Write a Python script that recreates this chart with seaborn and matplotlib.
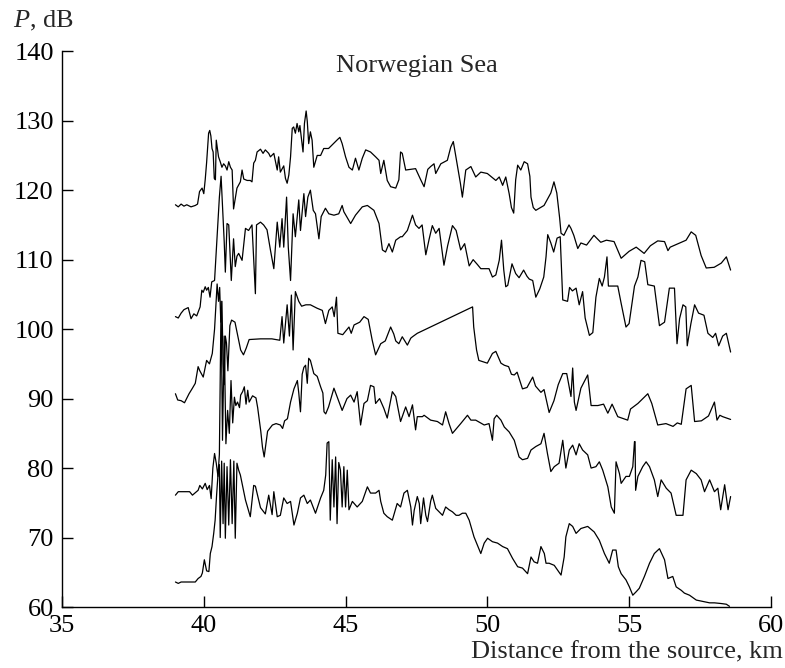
import pandas as pd
import matplotlib
matplotlib.use("Agg")
import matplotlib.pyplot as plt
import seaborn as sns

# (distance km, level dB), top to bottom
trace_1 = [(39.0, 117.9), (39.1, 117.6), (39.2, 118.0), (39.3, 117.7), (39.4, 117.9), (39.55, 117.6),
           (39.7, 117.8), (39.78, 118.0), (39.85, 119.8), (39.94, 120.3), (40.0, 119.5), (40.05, 121.5),
           (40.1, 124.0), (40.17, 128.2), (40.21, 128.6), (40.25, 127.8), (40.29, 126.0), (40.33, 125.5),
           (40.37, 121.7), (40.41, 121.5), (40.44, 127.2), (40.48, 126.0), (40.52, 124.8), (40.58, 124.1),
           (40.64, 123.3), (40.7, 123.8), (40.76, 123.5), (40.82, 122.9), (40.88, 124.1), (40.94, 123.3),
           (41.0, 122.9), (41.05, 117.3), (41.11, 118.8), (41.17, 120.3), (41.29, 121.2), (41.35, 122.9),
           (41.41, 121.6), (41.53, 121.4), (41.64, 121.4), (41.7, 121.2), (41.76, 123.9), (41.82, 124.3),
           (41.88, 125.5), (42.0, 125.9), (42.09, 125.3), (42.17, 125.8), (42.29, 125.3), (42.35, 124.8),
           (42.47, 125.3), (42.53, 124.1), (42.59, 122.9), (42.64, 124.8), (42.7, 122.6), (42.82, 123.5),
           (42.88, 121.7), (42.94, 121.0), (43.0, 122.2), (43.06, 124.8), (43.12, 128.9), (43.17, 129.1),
           (43.23, 128.2), (43.29, 129.6), (43.35, 128.4), (43.39, 129.3), (43.45, 127.2), (43.5, 125.5),
           (43.55, 129.6), (43.61, 131.4), (43.65, 129.9), (43.7, 126.7), (43.76, 128.4), (43.82, 127.2),
           (43.88, 123.3), (44.0, 125.0), (44.12, 125.0), (44.23, 126.0), (44.4, 126.0), (44.57, 126.7),
           (44.72, 127.3), (44.8, 127.6), (44.88, 126.7), (45.0, 124.8), (45.12, 123.3), (45.24, 122.9),
           (45.35, 124.6), (45.47, 122.9), (45.59, 124.6), (45.71, 125.8), (45.88, 125.5), (46.06, 124.8),
           (46.18, 124.3), (46.24, 122.4), (46.35, 124.3), (46.47, 121.4), (46.59, 120.5), (46.77, 120.3),
           (46.88, 121.5), (46.94, 125.5), (47.0, 125.3), (47.12, 122.9), (47.3, 123.0), (47.47, 123.1),
           (47.65, 121.5), (47.77, 120.5), (47.9, 123.0), (48.0, 123.4), (48.12, 123.8), (48.18, 122.4),
           (48.36, 123.8), (48.59, 124.3), (48.71, 126.2), (48.8, 127.0), (48.95, 123.4), (49.05, 121.0),
           (49.12, 119.0), (49.24, 122.9), (49.42, 123.4), (49.59, 121.9), (49.77, 122.6), (50.0, 122.4),
           (50.3, 121.4), (50.42, 121.9), (50.54, 120.7), (50.65, 121.9), (50.77, 119.5), (50.85, 117.5),
           (50.93, 116.7), (51.0, 121.5), (51.07, 123.6), (51.18, 122.9), (51.3, 124.1), (51.42, 123.8),
           (51.5, 122.0), (51.54, 119.0), (51.62, 117.5), (51.71, 117.1), (52.0, 117.8), (52.24, 119.6),
           (52.35, 121.2), (52.45, 119.6), (52.55, 116.0), (52.6, 113.8), (52.7, 113.5), (52.88, 115.0),
           (52.95, 114.5), (53.05, 113.5), (53.19, 111.6), (53.3, 112.4), (53.5, 112.1), (53.76, 113.5),
           (54.0, 112.5), (54.2, 112.8), (54.47, 112.6), (54.72, 110.2), (55.0, 111.2), (55.25, 111.8),
           (55.53, 110.9), (55.75, 112.0), (56.01, 112.7), (56.25, 112.6), (56.37, 111.3), (56.45, 111.8),
           (57.01, 112.8), (57.19, 114.0), (57.35, 113.5), (57.54, 110.6), (57.72, 108.8), (58.0, 108.9),
           (58.25, 109.5), (58.43, 110.4), (58.58, 108.5)]

trace_2 = [(39.0, 101.8), (39.1, 101.6), (39.2, 102.3), (39.3, 102.8), (39.45, 103.1), (39.55, 101.5),
           (39.65, 102.2), (39.75, 101.9), (39.87, 103.2), (39.93, 105.6), (39.98, 105.3), (40.05, 106.1),
           (40.1, 105.6), (40.16, 106.0), (40.22, 104.6), (40.28, 106.8), (40.38, 107.0), (40.45, 112.0),
           (40.55, 119.0), (40.61, 122.0), (40.66, 117.6), (40.72, 112.6), (40.76, 108.2), (40.82, 115.2),
           (40.88, 115.0), (40.94, 109.5), (40.97, 107.0), (41.05, 113.0), (41.11, 109.0), (41.17, 110.5),
           (41.23, 110.9), (41.35, 109.9), (41.47, 114.5), (41.58, 114.2), (41.7, 115.0), (41.82, 105.1),
           (41.86, 115.0), (42.0, 115.4), (42.11, 115.0), (42.23, 114.3), (42.35, 111.4), (42.47, 108.7),
           (42.59, 115.4), (42.68, 111.8), (42.76, 115.9), (42.82, 111.8), (42.92, 119.0), (42.98, 111.8),
           (43.06, 107.0), (43.15, 116.6), (43.23, 113.3), (43.35, 118.6), (43.41, 114.2), (43.53, 119.5),
           (43.59, 116.2), (43.67, 119.0), (43.76, 120.0), (43.86, 117.1), (43.94, 116.6), (44.06, 113.0),
           (44.14, 116.2), (44.29, 117.4), (44.41, 116.6), (44.59, 116.4), (44.76, 116.6), (44.88, 117.8),
           (44.94, 116.9), (45.18, 115.2), (45.35, 116.4), (45.59, 117.6), (45.77, 117.8), (46.0, 117.1),
           (46.18, 115.2), (46.3, 111.4), (46.41, 111.1), (46.53, 112.3), (46.65, 111.1), (46.77, 112.8),
           (46.94, 113.3), (47.0, 113.3), (47.18, 114.2), (47.36, 116.4), (47.47, 115.0), (47.59, 114.5),
           (47.7, 115.0), (47.83, 110.7), (47.95, 113.0), (48.06, 114.9), (48.18, 113.8), (48.3, 114.5),
           (48.47, 109.2), (48.6, 112.0), (48.77, 114.9), (48.9, 114.2), (49.06, 111.4), (49.2, 112.3),
           (49.36, 109.1), (49.5, 110.0), (49.65, 109.3), (49.77, 108.7), (50.06, 108.7), (50.18, 107.5),
           (50.3, 107.8), (50.42, 109.9), (50.5, 112.8), (50.58, 108.5), (50.65, 106.1), (50.72, 106.3),
           (50.87, 109.4), (51.0, 108.0), (51.12, 107.4), (51.28, 108.5), (51.4, 107.6), (51.48, 107.2),
           (51.6, 107.0), (51.71, 104.6), (51.85, 105.8), (51.99, 107.5), (52.07, 110.4), (52.13, 113.6),
           (52.24, 112.4), (52.34, 111.1), (52.46, 113.1), (52.57, 113.3), (52.66, 104.2), (52.83, 104.0),
           (52.9, 106.0), (53.0, 105.5), (53.13, 105.9), (53.24, 103.5), (53.36, 105.4), (53.45, 101.6),
           (53.6, 99.1), (53.72, 99.5), (53.83, 104.6), (53.95, 107.3), (54.05, 106.2), (54.13, 107.5),
           (54.22, 110.4), (54.27, 106.2), (54.45, 106.2), (54.6, 106.2), (54.72, 103.7), (54.89, 100.3),
           (55.0, 100.8), (55.19, 106.2), (55.31, 107.5), (55.42, 109.9), (55.55, 109.7), (55.66, 106.4),
           (55.89, 106.2), (56.07, 100.5), (56.25, 101.0), (56.42, 105.9), (56.6, 105.9), (56.69, 97.9),
           (56.78, 101.5), (56.9, 103.5), (57.0, 103.2), (57.05, 97.6), (57.18, 100.8), (57.31, 103.5),
           (57.45, 102.3), (57.64, 102.0), (57.78, 99.4), (57.95, 98.8), (58.05, 99.4), (58.16, 97.6),
           (58.3, 99.0), (58.43, 99.4), (58.58, 96.7)]

trace_3 = [(39.0, 90.7), (39.08, 89.8), (39.2, 89.7), (39.32, 89.4), (39.48, 90.7), (39.6, 91.5),
           (39.7, 92.2), (39.8, 94.6), (39.86, 94.0), (39.98, 93.1), (40.1, 95.5), (40.2, 95.0),
           (40.3, 96.5), (40.38, 100.0), (40.47, 106.5), (40.52, 104.0), (40.56, 106.0), (40.6, 101.0),
           (40.64, 104.0), (40.68, 95.0), (40.72, 92.0), (40.76, 99.0), (40.8, 98.0), (40.85, 94.0),
           (40.92, 100.5), (40.98, 101.3), (41.1, 101.0), (41.2, 99.0), (41.3, 97.0), (41.4, 96.3),
           (41.5, 97.3), (41.6, 98.5), (42.0, 98.6), (42.4, 98.6), (42.68, 98.4), (42.76, 101.8),
           (42.82, 98.0), (42.94, 103.5), (43.02, 99.0), (43.09, 104.9), (43.15, 97.0), (43.23, 105.4),
           (43.35, 104.0), (43.45, 103.3), (43.6, 103.5), (43.76, 103.5), (44.0, 103.0), (44.18, 102.7),
           (44.29, 100.8), (44.41, 102.7), (44.53, 103.2), (44.6, 101.8), (44.68, 104.6), (44.73, 99.4),
           (44.9, 99.2), (45.12, 100.3), (45.2, 99.4), (45.3, 100.6), (45.5, 101.0), (45.65, 101.8),
           (45.8, 101.4), (45.94, 98.4), (46.06, 96.3), (46.24, 97.9), (46.4, 98.3), (46.59, 100.3),
           (46.7, 99.3), (46.77, 98.3), (46.88, 97.9), (47.0, 98.9), (47.06, 98.5), (47.18, 97.7),
           (47.3, 98.7), (47.36, 98.9), (47.53, 99.4), (49.48, 103.2), (49.52, 100.3), (49.62, 97.0),
           (49.7, 95.5), (50.0, 95.1), (50.18, 96.5), (50.3, 96.8), (50.48, 95.1), (50.6, 94.8),
           (50.75, 94.6), (50.85, 93.5), (50.95, 93.4), (51.05, 93.8), (51.24, 91.4), (51.4, 91.6),
           (51.6, 93.1), (51.7, 91.8), (51.89, 90.9), (52.0, 91.3), (52.18, 88.0), (52.35, 89.7),
           (52.5, 92.0), (52.66, 93.6), (52.8, 93.6), (52.95, 90.3), (53.01, 94.4), (53.07, 89.5),
           (53.13, 88.3), (53.3, 91.5), (53.54, 93.4), (53.66, 89.0), (53.9, 89.0), (54.1, 89.2),
           (54.25, 87.9), (54.4, 89.2), (54.6, 87.4), (54.95, 86.9), (55.05, 88.5), (55.31, 89.3),
           (55.66, 90.7), (55.8, 89.3), (56.01, 86.2), (56.3, 86.4), (56.55, 86.0), (56.7, 86.5),
           (56.84, 86.3), (57.01, 91.4), (57.19, 91.9), (57.31, 86.7), (57.55, 86.8), (57.8, 87.5),
           (58.01, 89.5), (58.1, 86.9), (58.2, 87.6), (58.3, 87.4), (58.58, 87.0)]

trace_4 = [(39.0, 76.1), (39.1, 76.6), (39.3, 76.6), (39.5, 76.6), (39.6, 76.1), (39.8, 76.8),
           (39.86, 77.5), (39.95, 77.0), (40.05, 77.8), (40.12, 76.9), (40.2, 77.5), (40.26, 75.6),
           (40.32, 80.0), (40.38, 82.1), (40.44, 80.7), (40.5, 78.8), (40.55, 82.0), (40.61, 104.0),
           (40.66, 84.0), (40.72, 99.0), (40.78, 83.5), (40.84, 88.3), (40.9, 85.0), (40.96, 92.6),
           (41.02, 86.5), (41.08, 90.2), (41.13, 89.0), (41.19, 89.5), (41.26, 88.7), (41.3, 90.5),
           (41.37, 91.0), (41.43, 91.7), (41.49, 89.2), (41.55, 91.2), (41.6, 89.5), (41.72, 90.4),
           (41.84, 90.1), (41.9, 88.7), (42.01, 85.3), (42.07, 83.0), (42.13, 81.6), (42.25, 85.3),
           (42.42, 86.2), (42.55, 86.4), (42.7, 86.2), (42.78, 85.7), (42.85, 86.8), (42.95, 87.1),
           (43.06, 89.5), (43.18, 91.4), (43.3, 92.6), (43.35, 90.8), (43.41, 88.1), (43.47, 93.5),
           (43.53, 94.5), (43.59, 94.8), (43.65, 92.2), (43.7, 95.8), (43.76, 95.5), (43.88, 93.6),
           (44.0, 93.2), (44.12, 91.7), (44.2, 90.8), (44.24, 88.1), (44.3, 87.8), (44.4, 88.8),
           (44.59, 91.5), (44.7, 90.3), (44.88, 88.3), (45.05, 90.0), (45.18, 90.5), (45.3, 89.5),
           (45.41, 91.0), (45.53, 86.2), (45.65, 89.3), (45.77, 89.7), (45.88, 91.9), (46.0, 91.7),
           (46.06, 89.3), (46.2, 90.0), (46.35, 88.6), (46.47, 87.2), (46.65, 91.0), (46.77, 90.3),
           (46.94, 86.7), (47.06, 88.1), (47.12, 88.8), (47.24, 87.4), (47.36, 89.1), (47.47, 85.5),
           (47.53, 87.4), (47.71, 87.4), (47.77, 87.6), (48.0, 86.9), (48.24, 86.7), (48.42, 86.2),
           (48.53, 88.1), (48.65, 86.4), (48.77, 85.0), (49.06, 86.4), (49.3, 87.6), (49.42, 86.9),
           (49.59, 86.9), (49.89, 86.2), (50.06, 86.4), (50.18, 84.0), (50.24, 87.1), (50.33, 87.6),
           (50.48, 86.9), (50.6, 85.9), (50.77, 85.2), (50.95, 84.0), (51.12, 81.6), (51.24, 81.2),
           (51.42, 81.4), (51.54, 82.6), (51.71, 83.1), (51.89, 83.5), (52.0, 85.0), (52.12, 82.1),
           (52.24, 79.5), (52.36, 80.2), (52.53, 80.7), (52.66, 84.0), (52.77, 80.0), (52.89, 82.6),
           (53.01, 83.3), (53.13, 81.9), (53.24, 83.5), (53.36, 82.6), (53.54, 81.9), (53.66, 80.0),
           (53.83, 80.2), (53.95, 80.9), (54.07, 79.7), (54.25, 77.3), (54.37, 74.4), (54.48, 73.5),
           (54.54, 80.9), (54.66, 79.2), (54.72, 77.8), (54.89, 78.8), (55.01, 78.8), (55.13, 80.2),
           (55.19, 83.8), (55.21, 83.8), (55.23, 76.8), (55.31, 78.8), (55.48, 80.2), (55.6, 80.9),
           (55.72, 80.2), (55.89, 78.3), (56.01, 75.9), (56.13, 78.3), (56.31, 77.1), (56.48, 76.4),
           (56.66, 73.2), (56.9, 73.2), (57.01, 78.3), (57.19, 79.7), (57.37, 79.2), (57.54, 78.3),
           (57.66, 76.6), (57.84, 78.3), (58.01, 76.6), (58.13, 77.1), (58.23, 74.0), (58.37, 77.6),
           (58.49, 74.0), (58.58, 75.9)]

trace_5 = [(39.0, 63.6), (39.1, 63.4), (39.2, 63.6), (39.5, 63.6), (39.7, 63.6), (39.8, 64.1),
           (39.9, 64.4), (39.95, 64.9), (40.02, 66.8), (40.1, 65.2), (40.18, 65.1), (40.23, 67.7),
           (40.29, 68.7), (40.35, 70.6), (40.4, 72.5), (40.45, 76.0), (40.5, 79.0), (40.55, 80.5),
           (40.58, 70.0), (40.63, 81.0), (40.68, 72.0), (40.72, 80.7), (40.76, 69.9), (40.82, 80.2),
           (40.88, 71.8), (40.94, 81.2), (41.0, 72.0), (41.06, 81.0), (41.11, 69.9), (41.17, 80.7),
           (41.23, 79.7), (41.29, 79.0), (41.47, 75.4), (41.64, 73.0), (41.76, 77.5), (41.82, 77.4),
           (42.0, 74.3), (42.17, 73.4), (42.29, 76.1), (42.41, 73.3), (42.47, 76.6), (42.59, 73.0),
           (42.7, 73.2), (42.82, 75.7), (42.94, 74.9), (43.06, 75.2), (43.18, 71.8), (43.3, 73.5),
           (43.41, 75.7), (43.53, 76.1), (43.65, 74.9), (43.76, 75.4), (43.94, 73.5), (44.12, 75.7),
           (44.23, 76.8), (44.3, 79.0), (44.35, 83.6), (44.41, 83.8), (44.46, 72.5), (44.53, 81.2),
           (44.59, 74.4), (44.65, 81.6), (44.7, 72.0), (44.76, 80.8), (44.82, 79.7), (44.88, 74.4),
           (44.94, 80.2), (45.0, 74.4), (45.06, 79.7), (45.12, 74.0), (45.24, 75.2), (45.41, 74.4),
           (45.59, 75.2), (45.77, 77.3), (45.88, 76.4), (46.06, 76.4), (46.18, 76.8), (46.24, 75.2),
           (46.35, 73.5), (46.47, 73.0), (46.65, 72.5), (46.82, 74.9), (46.94, 74.4), (47.06, 76.4),
           (47.18, 76.8), (47.3, 74.4), (47.36, 71.8), (47.42, 73.9), (47.53, 75.9), (47.6, 74.9),
           (47.65, 72.0), (47.75, 75.7), (47.83, 73.2), (47.89, 72.3), (48.0, 75.2), (48.06, 76.1),
           (48.18, 74.2), (48.3, 73.7), (48.42, 73.2), (48.53, 74.4), (48.65, 74.0), (48.77, 73.7),
           (48.9, 73.2), (49.0, 73.2), (49.12, 73.5), (49.24, 73.5), (49.36, 72.5), (49.53, 70.1),
           (49.65, 68.9), (49.77, 67.7), (49.89, 69.2), (50.01, 69.9), (50.18, 69.4), (50.36, 69.2),
           (50.54, 68.7), (50.71, 68.4), (50.89, 67.0), (51.07, 65.8), (51.24, 65.6), (51.42, 64.8),
           (51.54, 67.2), (51.65, 66.5), (51.77, 66.3), (51.89, 68.7), (52.01, 67.7), (52.07, 66.3),
           (52.18, 66.3), (52.36, 66.0), (52.48, 65.3), (52.6, 64.6), (52.71, 67.2), (52.77, 70.1),
           (52.89, 72.0), (53.01, 71.6), (53.13, 70.6), (53.3, 71.3), (53.54, 71.6), (53.77, 70.8),
           (53.95, 69.6), (54.13, 67.7), (54.3, 66.3), (54.42, 68.2), (54.54, 68.2), (54.62, 65.8),
           (54.72, 64.8), (54.89, 63.9), (55.01, 62.9), (55.13, 61.7), (55.25, 62.2), (55.36, 62.7),
           (55.54, 64.4), (55.72, 66.3), (55.89, 67.7), (56.07, 68.4), (56.25, 66.8), (56.37, 64.1),
           (56.54, 64.4), (56.66, 62.9), (56.84, 62.4), (56.95, 62.0), (57.13, 61.7), (57.37, 61.0),
           (57.6, 60.8), (57.84, 60.6), (58.01, 60.6), (58.25, 60.5), (58.43, 60.4), (58.54, 60.1)]

traces = [trace_1, trace_2, trace_3, trace_4, trace_5]
x_ticks = [35, 40, 45, 50, 55, 60]
y_ticks = [60, 70, 80, 90, 100, 110, 120, 130, 140]

frames = []
for i, tr in enumerate(traces):
    d = pd.DataFrame(tr, columns=["km", "dB"])
    d["trace"] = i
    frames.append(d)
df = pd.concat(frames, ignore_index=True)

sns.set_style("ticks")
plt.rcParams["font.family"] = ["Liberation Serif", "DejaVu Serif"]
plt.rcParams["mathtext.fontset"] = "custom"
plt.rcParams["mathtext.it"] = "Liberation Serif:italic"
plt.rcParams["mathtext.rm"] = "Liberation Serif"

fs = 19
fig = plt.figure(figsize=(7.85, 6.68), dpi=100)
ax = fig.add_axes([0.079, 0.0913, 0.903, 0.832])

sns.lineplot(data=df, x="km", y="dB", units="trace", estimator=None, sort=False,
             color="black", lw=0.9, ax=ax)

ax.set_xlim(35, 60)
ax.set_ylim(60, 140)
ax.set_xticks(x_ticks)
ax.set_yticks(y_ticks)
ax.set_xlabel("")
ax.set_ylabel("")
ax.tick_params(direction="in", length=8, width=1, labelsize=fs, pad=6, colors="black")
sns.despine(ax=ax)
for s in ["left", "bottom"]:
    ax.spines[s].set_linewidth(1.0)
    ax.spines[s].set_color("black")

ax.text(47.5, 137.0, "Norwegian Sea", ha="center", va="baseline", fontsize=fs)
fig.text(13 / 785, 1 - 27 / 668, "$P$, dB", ha="left", va="baseline", fontsize=fs)
fig.text(0.9975, 0.014, "Distance from the source, km", ha="right", va="baseline", fontsize=fs)

fig.savefig("out.png", dpi=100)
